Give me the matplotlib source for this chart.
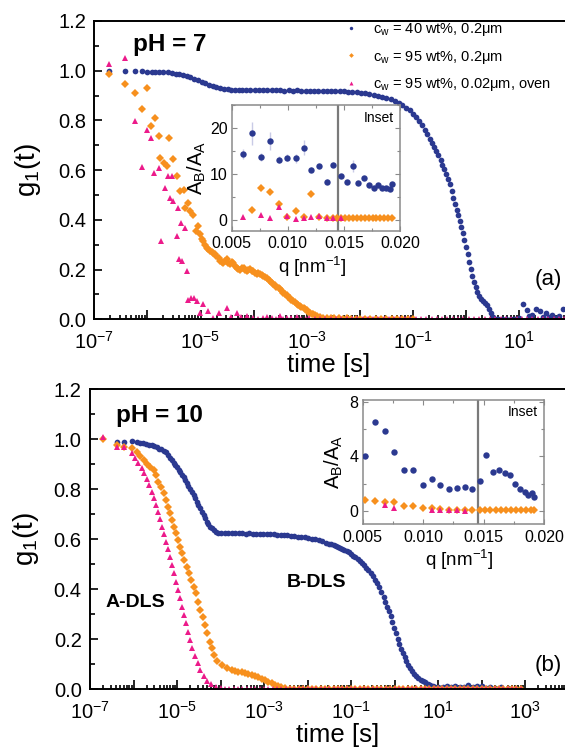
import numpy as np
import matplotlib
matplotlib.use('Agg')
import matplotlib.pyplot as plt
from matplotlib.ticker import LogLocator, FuncFormatter, NullFormatter, MultipleLocator

plt.rcParams['font.family'] = ['Liberation Sans', 'DejaVu Sans']
plt.rcParams['mathtext.fontset'] = 'custom'
plt.rcParams['mathtext.rm'] = 'Liberation Sans'
plt.rcParams['mathtext.it'] = 'Liberation Sans:italic'
plt.rcParams['mathtext.bf'] = 'Liberation Sans:bold'

# ---------------- data: panel (a), pH = 7 (log10 of lag time [s], g1) ----------------
A_BLUE_LOGT = [-6.72, -6.42, -6.23, -6.11, -6.00, -5.92, -5.85, -5.78, -5.70, -5.62, -5.54, -5.47, -5.40,
               -5.33, -5.26, -5.19, -5.12, -5.05, -4.98, -4.91, -4.84, -4.77, -4.70, -4.63, -4.56, -4.49,
               -4.42, -4.35, -4.28, -4.21, -4.14, -4.06, -3.98, -3.90, -3.82, -3.74, -3.66, -3.58, -3.50,
               -3.42, -3.34, -3.26, -3.18, -3.10, -3.02, -2.94, -2.86, -2.78, -2.70, -2.62, -2.54, -2.46,
               -2.38, -2.30, -2.22, -2.14, -2.06, -1.98, -1.90, -1.82, -1.74, -1.66, -1.58, -1.50, -1.42,
               -1.34, -1.27, -1.20, -1.13, -1.06, -1.00, -0.94, -0.88, -0.83, -0.78, -0.73, -0.68, -0.64,
               -0.60, -0.56, -0.52, -0.48, -0.45, -0.41, -0.37, -0.34, -0.30, -0.27, -0.24, -0.21, -0.18,
               -0.15, -0.12, -0.09, -0.06, -0.03, 0.00, 0.03, 0.06, 0.09, 0.12, 0.15, 0.18, 0.21, 0.24,
               0.28, 0.32, 0.36, 0.40, 0.44, 0.47, 0.50, 0.54, 0.60, 0.68, 0.76, 0.84, 0.92, 1.00, 1.08,
               1.14, 1.19, 1.24, 1.32, 1.39, 1.45, 1.50, 1.56, 1.61, 1.68, 1.75, 1.82, 1.90]
A_BLUE_G = [1.000, 0.997, 0.997, 0.997, 0.996, 0.996, 0.995, 0.995, 0.994, 0.993, 0.990, 0.988, 0.986,
            0.982, 0.979, 0.974, 0.968, 0.962, 0.956, 0.950, 0.944, 0.939, 0.934, 0.930, 0.927, 0.925,
            0.924, 0.923, 0.922, 0.922, 0.921, 0.922, 0.921, 0.922, 0.921, 0.921, 0.922, 0.921, 0.921,
            0.920, 0.921, 0.920, 0.921, 0.920, 0.920, 0.920, 0.919, 0.920, 0.919, 0.919, 0.918, 0.918,
            0.917, 0.917, 0.916, 0.915, 0.914, 0.912, 0.910, 0.907, 0.904, 0.900, 0.896, 0.891, 0.886,
            0.880, 0.872, 0.863, 0.852, 0.840, 0.827, 0.812, 0.796, 0.780, 0.763, 0.744, 0.726, 0.710,
            0.695, 0.678, 0.659, 0.640, 0.622, 0.603, 0.583, 0.563, 0.545, 0.516, 0.488, 0.462, 0.438,
            0.418, 0.396, 0.372, 0.346, 0.318, 0.290, 0.262, 0.232, 0.202, 0.175, 0.150, 0.128, 0.110,
            0.095, 0.082, 0.073, 0.066, 0.056, 0.040, 0.024, 0.010, 0.002, 0.000, 0.001, 0.000, 0.002,
            0.000, 0.004, 0.062, 0.037, 0.012, 0.017, 0.040, 0.035, 0.010, 0.024, 0.008, 0.017, 0.006,
            0.014, 0.040, 0.012]

A_ORANGE_LOGT = [-6.72, -6.42, -6.23, -6.11, -6.00, -5.94, -5.86, -5.79, -5.76, -5.69, -5.64, -5.59, -5.52,
                 -5.44, -5.39, -5.32, -5.29, -5.23, -5.20, -5.14, -5.09, -5.04, -5.01, -4.97, -4.95, -4.91,
                 -4.88, -4.85, -4.82, -4.79, -4.76, -4.73, -4.70, -4.66, -4.63, -4.60, -4.57, -4.54, -4.51,
                 -4.48, -4.45, -4.41, -4.38, -4.35, -4.32, -4.29, -4.26, -4.22, -4.19, -4.16, -4.13, -4.10,
                 -4.07, -4.04, -4.01, -3.97, -3.94, -3.91, -3.88, -3.85, -3.82, -3.78, -3.75, -3.72, -3.69,
                 -3.66, -3.63, -3.60, -3.57, -3.53, -3.50, -3.47, -3.44, -3.41, -3.38, -3.35, -3.32, -3.29,
                 -3.25, -3.22, -3.19, -3.16, -3.13, -3.10, -3.06, -3.03, -3.00, -2.97, -2.94, -2.91, -2.88,
                 -2.84, -2.81, -2.75, -2.69, -2.62, -2.55, -2.48, -2.40, -2.32, -2.24, -2.16, -2.08, -2.00,
                 -1.90, -1.80, -1.70, -1.60, -1.50, -1.40, -1.30, -1.20, -1.10, -1.00]
A_ORANGE_G = [0.985, 0.945, 0.911, 0.845, 0.932, 0.777, 0.808, 0.737, 0.650, 0.630, 0.617, 0.728, 0.643,
              0.576, 0.516, 0.519, 0.449, 0.469, 0.436, 0.420, 0.355, 0.375, 0.342, 0.325, 0.315, 0.300,
              0.288, 0.282, 0.275, 0.270, 0.268, 0.262, 0.255, 0.245, 0.235, 0.232, 0.228, 0.236, 0.241,
              0.226, 0.221, 0.230, 0.228, 0.215, 0.208, 0.203, 0.197, 0.207, 0.205, 0.198, 0.194, 0.198,
              0.201, 0.196, 0.194, 0.186, 0.181, 0.185, 0.184, 0.178, 0.174, 0.170, 0.165, 0.160, 0.154,
              0.148, 0.141, 0.136, 0.130, 0.126, 0.121, 0.114, 0.107, 0.103, 0.098, 0.090, 0.084, 0.079,
              0.074, 0.068, 0.063, 0.058, 0.054, 0.051, 0.047, 0.041, 0.036, 0.031, 0.027, 0.023, 0.020,
              0.016, 0.013, 0.010, 0.007, 0.006, 0.005, 0.004, 0.005, 0.003, 0.004, 0.003, 0.003, 0.002,
              0.003, 0.002, 0.002, 0.001, 0.002, 0.001, 0.001, 0.000, 0.001, 0.000]

A_PINK_LOGT = [-6.72, -6.42, -6.23, -6.11, -6.01, -5.94, -5.88, -5.79, -5.75, -5.67, -5.62, -5.57, -5.54,
               -5.51, -5.45, -5.42, -5.40, -5.37, -5.34, -5.29, -5.25, -5.23, -5.17, -5.12, -5.07, -5.01,
               -4.95, -4.85, -4.76, -4.66, -4.51, -4.42, -4.32, -4.23, -4.13, -4.01, -3.92, -3.82, -3.74,
               -3.66, -3.58, -3.50, -3.44, -3.38, -3.30, -3.19, -3.10, -3.02, -2.95, -2.85, -2.75, -2.65,
               -2.55, -2.45, -2.35, -2.25, -2.15, -2.05, -1.95, -1.85, -1.75, -1.65, -1.55, -1.45, -1.35,
               -1.25, -1.15, -1.05, -0.95, -0.85, -0.75, -0.65, -0.55, -0.45, -0.35, -0.25, -0.15, -0.05,
               0.05, 0.15, 0.25, 0.35, 0.45, 0.55, 0.65, 0.75, 0.85, 0.95, 1.05, 1.15, 1.25, 1.35, 1.45,
               1.55, 1.65, 1.75, 1.85, 1.95]
A_PINK_G = [1.028, 1.050, 0.798, 0.613, 0.760, 0.731, 0.590, 0.607, 0.315, 0.530, 0.576, 0.487, 0.576,
            0.476, 0.335, 0.449, 0.241, 0.389, 0.235, 0.369, 0.194, 0.076, 0.087, 0.087, 0.074, 0.027,
            0.060, 0.034, 0.007, 0.027, 0.047, 0.010, 0.027, 0.009, 0.013, 0.007, 0.003, 0.004, 0.010,
            0.007, 0.002, 0.013, 0.003, 0.004, 0.006, 0.009, 0.002, 0.003, 0.004, 0.001, 0.000, 0.001,
            0.000, 0.000, 0.001, 0.000, 0.000, 0.000, 0.001, 0.000, 0.000, 0.000, 0.000, 0.001, 0.000,
            0.000, 0.000, 0.000, 0.000, 0.000, 0.000, 0.000, 0.000, 0.000, 0.000, 0.000, 0.000, 0.000,
            0.000, 0.000, 0.000, 0.000, 0.000, 0.000, 0.000, 0.000, 0.000, 0.000, 0.000, 0.000, 0.000,
            0.000, 0.000, 0.000, 0.000, 0.000, 0.000, 0.000]

# ---------------- data: panel (b), pH = 10 ----------------
B_BLUE_LOGT = [-6.39, -6.21, -6.04, -5.93, -5.85, -5.78, -5.71, -5.65, -5.58, -5.52, -5.46, -5.41, -5.36,
               -5.31, -5.26, -5.21, -5.16, -5.12, -5.08, -5.04, -5.00, -4.96, -4.93, -4.89, -4.85, -4.82,
               -4.78, -4.74, -4.70, -4.66, -4.62, -4.58, -4.55, -4.51, -4.47, -4.43, -4.39, -4.36, -4.32,
               -4.28, -4.24, -4.20, -4.16, -4.11, -4.05, -3.98, -3.90, -3.82, -3.74, -3.66, -3.58, -3.50,
               -3.42, -3.34, -3.26, -3.18, -3.10, -3.02, -2.94, -2.86, -2.78, -2.70, -2.62, -2.54, -2.46,
               -2.38, -2.30, -2.22, -2.14, -2.06, -1.98, -1.90, -1.82, -1.74, -1.66, -1.58, -1.50, -1.45,
               -1.40, -1.35, -1.30, -1.25, -1.20, -1.15, -1.10, -1.05, -1.00, -0.95, -0.90, -0.85, -0.80,
               -0.75, -0.70, -0.65, -0.60, -0.55, -0.50, -0.45, -0.40, -0.35, -0.30, -0.25, -0.21, -0.17,
               -0.13, -0.09, -0.05, -0.01, 0.03, 0.07, 0.11, 0.15, 0.19, 0.23, 0.27, 0.31, 0.35, 0.40,
               0.45, 0.50, 0.55, 0.60, 0.65, 0.70, 0.76, 0.82, 0.88, 0.94, 1.00, 1.06, 1.12, 1.20, 1.30,
               1.40, 1.50, 1.60, 1.70, 1.80, 1.90, 2.00, 2.10, 2.20, 2.30, 2.45, 2.60]
B_BLUE_G = [0.990, 0.988, 0.995, 0.990, 0.986, 0.984, 0.980, 0.978, 0.976, 0.972, 0.968, 0.962, 0.960,
            0.952, 0.948, 0.938, 0.926, 0.916, 0.907, 0.897, 0.888, 0.878, 0.868, 0.858, 0.848, 0.836,
            0.824, 0.812, 0.800, 0.789, 0.777, 0.764, 0.751, 0.738, 0.724, 0.711, 0.697, 0.684, 0.671,
            0.660, 0.651, 0.644, 0.637, 0.631, 0.627, 0.625, 0.624, 0.625, 0.624, 0.624, 0.625, 0.624,
            0.623, 0.624, 0.623, 0.623, 0.622, 0.622, 0.621, 0.621, 0.620, 0.619, 0.619, 0.618, 0.616,
            0.615, 0.613, 0.611, 0.609, 0.608, 0.605, 0.602, 0.600, 0.596, 0.592, 0.587, 0.582, 0.580,
            0.578, 0.573, 0.569, 0.565, 0.562, 0.559, 0.554, 0.549, 0.542, 0.535, 0.528, 0.521, 0.513,
            0.505, 0.496, 0.487, 0.477, 0.465, 0.452, 0.439, 0.425, 0.410, 0.391, 0.369, 0.350, 0.331,
            0.312, 0.292, 0.270, 0.247, 0.225, 0.203, 0.183, 0.163, 0.145, 0.128, 0.113, 0.099, 0.087,
            0.074, 0.063, 0.053, 0.045, 0.039, 0.034, 0.028, 0.022, 0.017, 0.013, 0.010, 0.008, 0.007,
            0.009, 0.012, 0.010, 0.014, 0.009, 0.011, 0.016, 0.008, 0.012, 0.015, 0.007, 0.011, 0.006,
            0.008, 0.004]

B_ORANGE_LOGT = [-6.69, -6.39, -6.21, -6.04, -5.93, -5.85, -5.77, -5.70, -5.62, -5.54, -5.48, -5.43, -5.37,
                 -5.31, -5.25, -5.20, -5.15, -5.11, -5.06, -5.02, -4.97, -4.92, -4.88, -4.83, -4.78, -4.72,
                 -4.68, -4.62, -4.57, -4.51, -4.46, -4.41, -4.36, -4.30, -4.25, -4.20, -4.14, -4.07, -3.97,
                 -3.86, -3.74, -3.67, -3.59, -3.51, -3.44, -3.36, -3.28, -3.20, -3.13, -3.05, -2.98, -2.90,
                 -2.82, -2.75, -2.67, -2.60, -2.52, -2.40, -2.30, -2.20, -2.10, -2.00, -1.90, -1.80, -1.70,
                 -1.60, -1.50, -1.40, -1.30, -1.20, -1.10, -1.00, -0.90, -0.80, -0.70, -0.60, -0.50, -0.40,
                 -0.30, -0.20, -0.10, 0.00, 0.10, 0.20, 0.30, 0.40, 0.50, 0.60, 0.70, 0.80, 0.90, 1.00,
                 1.10, 1.20, 1.30, 1.40, 1.50, 1.60, 1.70, 1.80, 1.90, 2.00, 2.10, 2.20, 2.30, 2.40, 2.50,
                 2.60, 2.70, 2.80, 2.90]
B_ORANGE_G = [1.000, 0.977, 0.971, 0.964, 0.951, 0.933, 0.917, 0.901, 0.888, 0.877, 0.857, 0.831, 0.811,
              0.784, 0.757, 0.731, 0.704, 0.677, 0.651, 0.624, 0.597, 0.571, 0.544, 0.517, 0.491, 0.464,
              0.437, 0.411, 0.384, 0.351, 0.317, 0.291, 0.257, 0.224, 0.191, 0.164, 0.137, 0.115, 0.097,
              0.084, 0.077, 0.074, 0.071, 0.068, 0.064, 0.061, 0.057, 0.053, 0.048, 0.043, 0.037, 0.031,
              0.024, 0.018, 0.013, 0.009, 0.005, 0.003, 0.002, 0.002, 0.001, 0.001, 0.000, 0.001, 0.000,
              0.000, 0.000, 0.000, 0.000, 0.000, 0.000, 0.000, 0.000, 0.000, 0.000, 0.000, 0.000, 0.000,
              0.000, 0.000, 0.000, 0.000, 0.000, 0.000, 0.000, 0.000, 0.000, 0.000, 0.000, 0.000, 0.000,
              0.000, 0.000, 0.000, 0.000, 0.000, 0.000, 0.000, 0.000, 0.000, 0.000, 0.000, 0.000, 0.000,
              0.000, 0.000, 0.000, 0.000, 0.000, 0.000, 0.000]

B_PINK_LOGT = [-6.69, -6.39, -6.21, -6.04, -5.97, -5.89, -5.81, -5.75, -5.69, -5.64, -5.58, -5.53, -5.48,
               -5.43, -5.38, -5.34, -5.29, -5.25, -5.20, -5.15, -5.11, -5.06, -5.02, -4.97, -4.92, -4.88,
               -4.83, -4.79, -4.74, -4.69, -4.65, -4.59, -4.52, -4.46, -4.39, -4.31, -4.22, -4.11, -3.99,
               -3.90, -3.80, -3.70, -3.60, -3.50, -3.40, -3.30, -3.20, -3.10, -3.00, -2.90, -2.80, -2.70,
               -2.60, -2.50, -2.40, -2.30, -2.20, -2.10, -2.00, -1.90, -1.80, -1.70, -1.60, -1.50, -1.40,
               -1.30, -1.20, -1.10, -1.00, -0.90, -0.80, -0.70, -0.60, -0.50, -0.40, -0.30, -0.20, -0.10,
               0.00, 0.10, 0.20, 0.30, 0.40, 0.50, 0.60, 0.70, 0.80, 0.90, 1.00, 1.10, 1.20, 1.30, 1.40,
               1.50, 1.60, 1.70, 1.80, 1.90, 2.00, 2.10, 2.20, 2.30, 2.40, 2.50, 2.60, 2.70, 2.80, 2.90]
B_PINK_G = [1.010, 0.971, 0.968, 0.944, 0.924, 0.904, 0.884, 0.864, 0.840, 0.817, 0.791, 0.764, 0.737,
            0.711, 0.680, 0.651, 0.621, 0.591, 0.560, 0.531, 0.497, 0.464, 0.431, 0.397, 0.364, 0.331,
            0.297, 0.264, 0.231, 0.197, 0.164, 0.133, 0.104, 0.077, 0.053, 0.035, 0.021, 0.011, 0.004,
            0.002, 0.001, 0.001, 0.000, 0.000, 0.000, 0.000, 0.000, 0.000, 0.000, 0.000, 0.000, 0.000,
            0.000, 0.000, 0.000, 0.000, 0.000, 0.000, 0.000, 0.000, 0.000, 0.000, 0.000, 0.000, 0.000,
            0.000, 0.000, 0.000, 0.000, 0.000, 0.000, 0.000, 0.000, 0.000, 0.000, 0.000, 0.000, 0.000,
            0.000, 0.000, 0.000, 0.000, 0.000, 0.000, 0.000, 0.000, 0.000, 0.000, 0.000, 0.000, 0.000,
            0.000, 0.000, 0.000, 0.000, 0.000, 0.000, 0.000, 0.000, 0.000, 0.000, 0.000, 0.000, 0.000,
            0.000, 0.000, 0.000, 0.000]

# ---------------- inset data: A_B/A_A vs q [nm^-1] ----------------
IA_BLUE_Q = [0.00598, 0.00681, 0.00765, 0.00842, 0.00920, 0.00997, 0.01074, 0.01146, 0.01211, 0.01280,
             0.01348, 0.01407, 0.01473, 0.01527, 0.01580, 0.01628, 0.01681, 0.01723, 0.01764, 0.01806,
             0.01842, 0.01878, 0.01907, 0.01931]
IA_BLUE_R = [14.5, 18.9, 13.8, 17.2, 13.2, 13.6, 13.5, 15.8, 11.0, 11.8, 8.4, 12.1, 9.6, 8.4, 11.8, 8.2,
             9.1, 7.6, 6.9, 7.6, 7.1, 6.9, 6.7, 7.8]
IA_BLUE_ERR = [1.1, 2.5, 0.8, 2.0, 0.8, 0.8, 1.0, 1.7, 0.6, 0.5, 0.5, 0.6, 0.5, 0.4, 1.4, 0.3, 0.3, 0.3,
               0.3, 0.3, 0.3, 0.3, 0.3, 0.3]
IA_ORANGE_Q = [0.00681, 0.00765, 0.00842, 0.00920, 0.00997, 0.01074, 0.01146, 0.01211, 0.01280, 0.01348,
               0.01407, 0.01440, 0.01473, 0.01510, 0.01545, 0.01580, 0.01615, 0.01650, 0.01685, 0.01720,
               0.01755, 0.01790, 0.01825, 0.01860, 0.01895, 0.01931]
IA_ORANGE_R = [2.3, 6.9, 6.2, 3.6, 0.6, 2.0, 0.6, 5.6, 0.6, 0.45, 0.45, 0.45, 0.45, 0.45, 0.45, 0.45, 0.45,
               0.45, 0.45, 0.5, 0.5, 0.45, 0.5, 0.5, 0.5, 0.5]
IA_PINK_Q = [0.00598, 0.00765, 0.00842, 0.00920, 0.00997, 0.01074, 0.01146, 0.01211, 0.01280, 0.01348,
             0.01407, 0.01473]
IA_PINK_R = [0.6, 1.1, 0.45, 2.8, 1.0, 0.35, 0.45, 0.7, 0.8, 0.45, 0.5, 0.5]

IB_BLUE_Q = [0.00522, 0.00602, 0.00684, 0.00761, 0.00842, 0.00919, 0.00996, 0.01073, 0.01142, 0.01211,
             0.01277, 0.01344, 0.01407, 0.01473, 0.01522, 0.01575, 0.01630, 0.01674, 0.01718, 0.01762,
             0.01801, 0.01840, 0.01870, 0.01898, 0.01920]
IB_BLUE_R = [4.0, 6.5, 5.84, 4.32, 2.97, 2.97, 1.94, 2.33, 1.89, 1.6, 1.67, 1.77, 1.62, 2.23, 4.12, 2.87,
             3.0, 2.8, 2.65, 1.96, 1.64, 1.42, 1.18, 1.3, 1.06]
IB_ORANGE_Q = [0.00522, 0.00602, 0.00684, 0.00761, 0.00842, 0.00919, 0.00996, 0.01073, 0.01142, 0.01211,
               0.01277, 0.01344, 0.01407, 0.01473, 0.01515, 0.01557, 0.01600, 0.01642, 0.01684, 0.01726,
               0.01768, 0.01810, 0.01852, 0.01894, 0.01920]
IB_ORANGE_R = [0.81, 0.76, 0.69, 0.64, 0.39, 0.37, 0.25, 0.2, 0.15, 0.1, 0.1, 0.08, 0.06, 0.05, 0.05, 0.05,
               0.05, 0.05, 0.05, 0.05, 0.05, 0.05, 0.05, 0.05, 0.05]
IB_PINK_Q = [0.00684, 0.00761, 0.01073, 0.01142, 0.01211, 0.01277, 0.01344]
IB_PINK_R = [0.45, 0.25, 0.05, 0.05, 0.05, 0.1, 0.02]

Q_CUT = 0.0145  # vertical reference line in the insets

LABELS = [r'c$_\mathregular{w}$ = 40 wt%, 0.2μm',
          r'c$_\mathregular{w}$ = 95 wt%, 0.2μm',
          r'c$_\mathregular{w}$ = 95 wt%, 0.02μm, oven']

BLUE = '#2b3990'
ORANGE = '#f7901e'
PINK = '#ec1a8a'
ERRC = '#c9cbe6'
GRAY = '#8a8a8a'

MS_O, MS_D, MS_T = 4.1, 4.0, 4.8

fig = plt.figure(figsize=(5.65, 7.51), dpi=100)


def style_main(ax, xmax):
    ax.set_xscale('log')
    ax.set_xlim(1e-7, xmax)
    ax.set_ylim(0, 1.2)
    ax.xaxis.set_major_locator(LogLocator(base=10, numticks=40))
    ax.xaxis.set_major_formatter(FuncFormatter(
        lambda v, p: (r'$\mathregular{10^{%d}}$' % round(np.log10(v))) if round(np.log10(v)) % 2 != 0 else ''))
    ax.xaxis.set_minor_locator(LogLocator(base=10, subs=np.arange(2, 10), numticks=40))
    ax.xaxis.set_minor_formatter(NullFormatter())
    ax.yaxis.set_major_locator(MultipleLocator(0.2))
    ax.yaxis.set_minor_locator(MultipleLocator(0.1))
    ax.yaxis.set_major_formatter(FuncFormatter(lambda v, p: '%.1f' % abs(v) if abs(v) < 1e-9 else '%.1f' % v))
    ax.tick_params(which='both', direction='in', top=False, right=False, labelsize=14.5, width=1.2)
    ax.tick_params(axis='x', which='major', length=6.2, pad=8.5)
    ax.tick_params(axis='x', which='minor', length=3.2)
    ax.tick_params(axis='y', which='major', length=6, pad=6)
    ax.tick_params(axis='y', which='minor', length=3.6)
    for s in ax.spines.values():
        s.set_linewidth(1.4)


def style_inset(ax, ylim, ymaj, ymin):
    ax.set_xlim(0.005, 0.020)
    ax.set_ylim(*ylim)
    ax.set_facecolor('white')
    ax.xaxis.set_major_locator(MultipleLocator(0.005))
    ax.xaxis.set_minor_locator(MultipleLocator(0.0025))
    ax.xaxis.set_major_formatter(FuncFormatter(lambda v, p: '%.3f' % v))
    ax.yaxis.set_major_locator(MultipleLocator(ymaj))
    ax.yaxis.set_minor_locator(MultipleLocator(ymin))
    ax.yaxis.set_major_formatter(FuncFormatter(lambda v, p: '%d' % round(v)))
    ax.tick_params(which='both', direction='in', top=True, right=True, labelsize=11.5,
                   color=GRAY, width=0.8)
    ax.tick_params(which='major', length=3.5)
    ax.tick_params(which='minor', length=2)
    ax.tick_params(axis='y', pad=3)
    ax.tick_params(axis='x', pad=4)
    for s in ax.spines.values():
        s.set_linewidth(1.1)
        s.set_color(GRAY)
    ax.axvline(Q_CUT, color='#7a7a7a', lw=1.6, zorder=1)
    ax.text(0.965, 0.90, 'Inset', transform=ax.transAxes, ha='right', va='center', fontsize=10)


# ---------------- panel (a) ----------------
ax1 = fig.add_axes([94.3 / 565, 1 - 319.3 / 751, 478 / 565, 298.3 / 751])
style_main(ax1, 1e2)
h1, = ax1.plot(10 ** np.array(A_BLUE_LOGT), A_BLUE_G, 'o', color=BLUE, ms=MS_O, mew=0, label=LABELS[0])
h2, = ax1.plot(10 ** np.array(A_ORANGE_LOGT), A_ORANGE_G, 'D', color=ORANGE, ms=MS_D, mew=0, label=LABELS[1])
h3, = ax1.plot(10 ** np.array(A_PINK_LOGT), A_PINK_G, '^', color=PINK, ms=MS_T, mew=0, label=LABELS[2])
ax1.set_xlabel('time [s]', fontsize=18.5)
ax1.xaxis.set_label_coords(0.49, -0.113)
ax1.set_ylabel(r'$\mathregular{g_1(t)}$', fontsize=20)
ax1.yaxis.set_label_coords(-0.107, 0.5)
ax1.text(0.158, 0.92, 'pH = 7', transform=ax1.transAxes, ha='center', va='center',
         fontsize=17.5, fontweight='bold')
ax1.text(0.949, 0.132, '(a)', transform=ax1.transAxes, ha='center', va='center', fontsize=16)
ax1.legend(handles=[h1, h2, h3], loc='upper left', bbox_to_anchor=(343.8 / 565, 1 - 21.0 / 751),
           bbox_transform=fig.transFigure, frameon=False, fontsize=10.5, handlelength=1.0,
           handletextpad=1.0, labelspacing=0.72, borderpad=0, borderaxespad=0, markerscale=0.6,
           numpoints=1)

# inset (a)
ia = fig.add_axes([231.7 / 565, 1 - 230.7 / 751, 168.3 / 565, 125.7 / 751])
style_inset(ia, (-2.3, 25.1), 10, 5)
ia.errorbar(IA_BLUE_Q, IA_BLUE_R, yerr=IA_BLUE_ERR, fmt='o', color=BLUE, ecolor=ERRC, elinewidth=1,
            capsize=0, ms=4.6, mew=0, zorder=3)
ia.plot(IA_ORANGE_Q, IA_ORANGE_R, 'D', color=ORANGE, ms=4.2, mew=0, zorder=3)
ia.plot(IA_PINK_Q, IA_PINK_R, '^', color=PINK, ms=4.8, mew=0, zorder=4)
ia.set_xlabel(r'$\mathregular{q\ [nm^{-1}]}$', fontsize=13.5)
ia.xaxis.set_label_coords(0.48, -0.195)
ia.set_ylabel(r'$\mathregular{A_B/A_A}$', fontsize=14.5)
ia.yaxis.set_label_coords(-0.141, 0.5)

# ---------------- panel (b) ----------------
ax2 = fig.add_axes([90 / 565, 1 - 689.3 / 751, 478.5 / 565, 299.8 / 751])
style_main(ax2, 1e4)
ax2.plot(10 ** np.array(B_BLUE_LOGT), B_BLUE_G, 'o', color=BLUE, ms=MS_O, mew=0)
ax2.plot(10 ** np.array(B_ORANGE_LOGT), B_ORANGE_G, 'D', color=ORANGE, ms=MS_D, mew=0)
ax2.plot(10 ** np.array(B_PINK_LOGT), B_PINK_G, '^', color=PINK, ms=MS_T, mew=0)
ax2.set_xlabel('time [s]', fontsize=18.5)
ax2.xaxis.set_label_coords(0.517, -0.114)
ax2.set_ylabel(r'$\mathregular{g_1(t)}$', fontsize=20)
ax2.yaxis.set_label_coords(-0.102, 0.5)
ax2.text(0.146, 0.912, 'pH = 10', transform=ax2.transAxes, ha='center', va='center',
         fontsize=17.5, fontweight='bold')
ax2.text(0.094, 0.288, 'A-DLS', transform=ax2.transAxes, ha='center', va='center',
         fontsize=14, fontweight='bold')
ax2.text(0.474, 0.355, 'B-DLS', transform=ax2.transAxes, ha='center', va='center',
         fontsize=14, fontweight='bold')
ax2.text(0.957, 0.081, '(b)', transform=ax2.transAxes, ha='center', va='center', fontsize=16)

# inset (b)
ib = fig.add_axes([362.7 / 565, 1 - 524.3 / 751, 181.3 / 565, 124.3 / 751])
style_inset(ib, (-0.97, 8.12), 4, 2)
ib.plot(IB_BLUE_Q, IB_BLUE_R, 'o', color=BLUE, ms=4.6, mew=0, zorder=3)
ib.plot(IB_ORANGE_Q, IB_ORANGE_R, 'D', color=ORANGE, ms=4.2, mew=0, zorder=3)
ib.plot(IB_PINK_Q, IB_PINK_R, '^', color=PINK, ms=4.8, mew=0, zorder=4)
ib.set_xlabel(r'$\mathregular{q\ [nm^{-1}]}$', fontsize=13.5)
ib.xaxis.set_label_coords(0.53, -0.19)
ib.set_ylabel(r'$\mathregular{A_B/A_A}$', fontsize=14.5)
ib.yaxis.set_label_coords(-0.098, 0.5)

fig.savefig('out.png', dpi=100)
